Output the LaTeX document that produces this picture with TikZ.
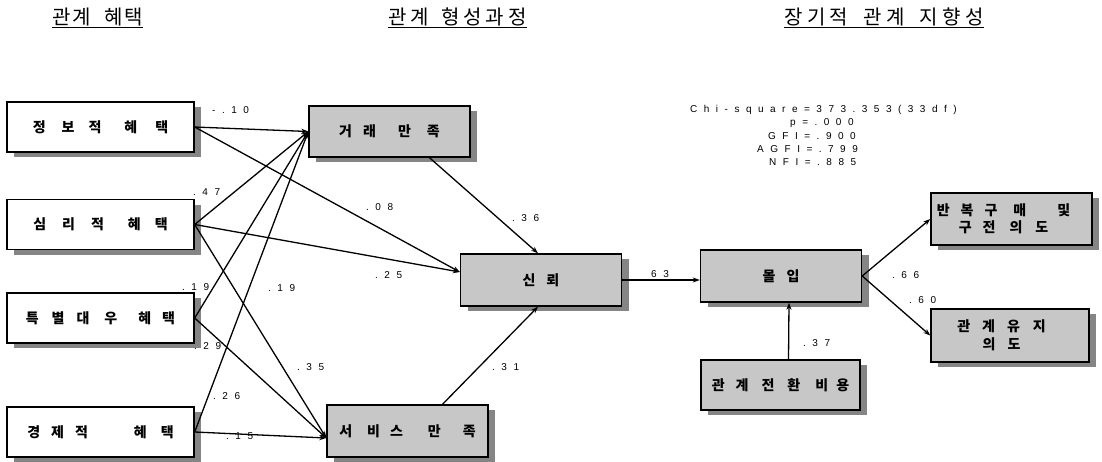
\documentclass[tikz,border=0pt]{standalone}
\usepackage{fontspec}
\setmainfont{Liberation Sans}
\newfontfamily\kr{Noto Sans CJK KR}
\newfontfamily\lab[LetterSpace=65]{Liberation Sans}
\usetikzlibrary{arrows.meta,calc,shadows}
\newcommand\gp[1]{\hspace{#1pt}}
\tikzset{
 wbox/.style={draw=black,line width=1.4pt,fill=white,minimum width=187pt,minimum height=50pt,inner sep=0pt,
   font=\kr\bfseries\fontsize{14}{17}\selectfont,
   drop shadow={shadow xshift=7pt,shadow yshift=-5pt,fill=black!48,opacity=1}},
 gbox/.style={wbox,fill=black!22,minimum width=161pt,minimum height=51pt},
 link/.style={line width=1.3pt,-{Stealth[length=7pt,width=5pt]}},
 coef/.style={font=\lab\fontsize{10}{11}\selectfont,inner sep=0pt,anchor=west},
 statline/.style={font=\lab\fontsize{10}{11}\selectfont,inner sep=0pt,anchor=west},
 hdr/.style={font=\kr\fontsize{20}{23}\selectfont,inner sep=0pt}
}
\begin{document}
\begin{tikzpicture}[x=1pt,y=-1pt]
\useasboundingbox[fill=white] (0,0) rectangle (1102,461);
% headers
\node[hdr] (h1) at (97.5,18) {\underline{관\kern2pt계\hspace{13pt}혜\kern2pt택}};
\node[hdr] (h2) at (457.5,18) {\underline{관\kern4pt계\hspace{12pt}형\kern4pt성\kern4pt과\kern4pt정}};
\node[hdr] (h3) at (884,18) {\underline{장\kern4.5pt기\kern4.5pt적\hspace{15pt}관\kern4.5pt계\hspace{15pt}지\kern4.5pt향\kern4.5pt성}};
% left boxes
\node[wbox] (j) at (100.5,127) {정\gp{16}보\gp{14}적\gp{23}혜\gp{18}택};
\node[wbox] (s) at (100.5,224.5) {심\gp{16}리\gp{16}적\gp{24}혜\gp{14}택};
\node[wbox] (t) at (100.5,318) {특\gp{13}별\gp{12}대\gp{15}우\gp{21}혜\gp{11}택\gp{16}};
\node[wbox] (g) at (100.5,432) {경\gp{11}제\gp{11}적\gp{46}혜\gp{14}택\gp{16}};
% middle boxes
\node[gbox] (tr) at (389.5,131.5) {거\gp{11}래\gp{22}만\gp{16}족\gp{11}};
\node[gbox,minimum height=52pt] (sr) at (541,280) {신\gp{11}뢰\gp{22}};
\node[gbox,minimum height=52pt] (sv) at (407.5,431) {서\gp{15}비\gp{10}스\gp{25}만\gp{22}족};
% right boxes
\node[gbox,minimum height=52pt] (mi) at (781,276) {몰\gp{11}입\gp{16}};
\node[gbox,align=center,minimum height=52pt] (rb) at (1011.5,219) {반\gp{11}복\gp{11}구\gp{16}매\gp{31}및\gp{16}\mbox{}\\구\gp{11}전\gp{14}의\gp{13}도\gp{16}\mbox{}};
\node[gbox,align=center,minimum width=158pt,minimum height=53pt,font=\kr\bfseries\fontsize{14}{18}\selectfont] (rm) at (1010,335.5) {관\gp{12}계\gp{12}유\gp{13}지\gp{17}\mbox{}\\의\gp{12}도\gp{17}\mbox{}};
\node[gbox,minimum width=159pt,minimum height=50pt] (sw) at (780.5,385) {관\gp{11}계\gp{13}전\gp{13}환\gp{15}비\gp{8}용};
% fit statistics
\node[statline] (c1) at (690,110) {Chi-square=373.353(33df)};
\node[statline] (c2) at (790,123) {p=.000};
\node[statline] (c3) at (768,136) {GFI=.900};
\node[statline] (c4) at (757,149) {AGFI=.799};
\node[statline] (c5) at (769,162) {NFI=.885};
% connectors
\coordinate (srin) at ($(sr.west)+(0,-8)$);
\coordinate (svin) at ($(sv.west)+(0,7)$);
\draw[link] (j.east) -- (tr.west);
\draw[link] (j.east) -- (srin);
\draw[link] (s.east) -- (tr.west);
\draw[link] (s.east) -- (srin);
\draw[link] (s.east) -- (svin);
\draw[link] (t.east) -- (tr.west);
\draw[link] (t.east) -- (svin);
\draw[link] (g.east) -- (tr.west);
\draw[link] (g.east) -- (svin);
\draw[link] ($(tr.south)+(40,0)$) -- ($(sr.north)+(-3,0)$);
\draw[link] ($(sv.north)+(35,0)$) -- ($(sr.south)+(-3,0)$);
\draw[link] (sr.east) -- (sr.east -| mi.west);
\draw[link] (mi.east) -- (rb.west);
\draw[link] (mi.east) -- (rm.west);
\draw[link] ($(sw.north)+(8,0)$) -- ($(mi.south)+(8,0)$);
% coefficients
\node[coef] (k1) at (212,110) {-.10};
\node[coef] (k2) at (193,192) {.47};
\node[coef] (k3) at (366,207) {.08};
\node[coef] (k4) at (512,218) {.36};
\node[coef] (k5) at (375,275) {.25};
\node[coef] (k6) at (182,287) {.19};
\node[coef] (k7) at (268,288) {.19};
\node[coef] (k8) at (194,346) {.29};
\node[coef] (k9) at (297,367) {.35};
\node[coef] (k10) at (492,367) {.31};
\node[coef] (k11) at (213,396) {.26};
\node[coef] (k12) at (226,436) {.15};
\node[coef] (k13) at (651,274) {63};
\node[coef] (k14) at (892,275) {.66};
\node[coef] (k15) at (909,300) {.60};
\node[coef] (k16) at (803,343) {.37};
\end{tikzpicture}
\end{document}
